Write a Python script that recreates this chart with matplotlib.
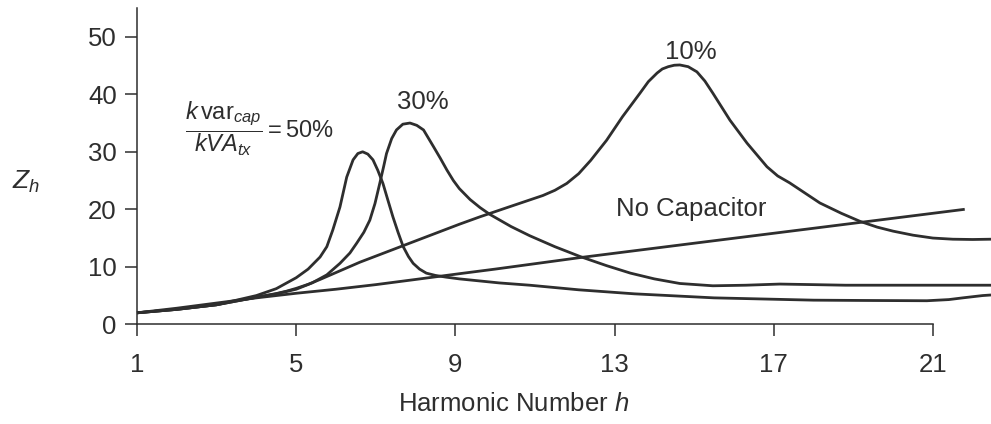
import matplotlib
matplotlib.use("Agg")
import matplotlib.pyplot as plt

plt.rcParams['font.family'] = ['Liberation Sans', 'DejaVu Sans']
plt.rcParams['mathtext.fontset'] = 'custom'
plt.rcParams['mathtext.rm'] = 'Liberation Sans'
plt.rcParams['mathtext.it'] = 'Liberation Sans:italic'

INK = '#2e2e2e'

# values
h_50 = [1, 2, 3, 4, 4.5, 5.0, 5.3, 5.6, 5.77, 5.92, 6.1, 6.27, 6.43, 6.55, 6.67, 6.8,
        6.93, 7.05, 7.18, 7.3, 7.43, 7.56, 7.69, 7.82, 7.94, 8.1, 8.27, 8.5, 8.77, 9.1,
        10.1, 10.87, 12.1, 13.5, 15.5, 18.0, 19.2, 20.85, 21.4, 21.75, 22.25, 22.46]
z_50 = [2, 2.6, 3.4, 5.0, 6.2, 8.1, 9.6, 11.7, 13.5, 16.4, 20.4, 25.6, 28.6, 29.7, 30.0, 29.6,
        28.6, 26.8, 24.5, 21.7, 18.7, 16.0, 13.5, 11.8, 10.6, 9.6, 8.9, 8.5, 8.2, 7.9,
        7.2, 6.8, 6.0, 5.3, 4.6, 4.2, 4.15, 4.1, 4.3, 4.6, 5.0, 5.1]

h_30 = [1, 2, 3, 4, 4.5, 5, 5.4, 5.77, 6.1, 6.35, 6.52, 6.7, 6.85, 6.98, 7.1, 7.2, 7.27,
        7.4, 7.52, 7.68, 7.86, 8.03, 8.2, 8.45, 8.62, 8.79, 8.95, 9.1, 9.37, 9.62, 9.87,
        10.4, 10.87, 11.5, 12.13, 12.8, 13.4, 14.0, 14.64, 15.47, 16.3, 17.15, 18.0, 18.8,
        22.46]
z_30 = [2, 2.6, 3.4, 4.7, 5.3, 6.1, 7.2, 8.6, 10.6, 12.4, 14.1, 16.0, 18.1, 21.0, 24.5, 27.5,
        29.7, 32.3, 33.8, 34.8, 35.0, 34.6, 33.8, 30.9, 28.9, 26.8, 25.0, 23.6, 21.7, 20.3,
        19.1, 17.0, 15.4, 13.5, 11.8, 10.2, 8.9, 7.9, 7.1, 6.7, 6.8, 7.0, 6.9, 6.8,
        6.8]

h_10 = [1, 2, 3, 4, 4.5, 4.75, 5, 5.3, 5.6, 6.6, 8.0, 9.1, 9.62, 10.3, 10.9, 11.2, 11.5,
        11.8, 12.1, 12.4, 12.8, 13.2, 13.64, 13.85, 14.07, 14.2, 14.35, 14.5, 14.64, 14.85,
        15.07, 15.27, 15.47, 15.9, 16.33, 16.83, 17.1, 17.4, 18.16, 18.7, 19.17, 19.6,
        20.0, 20.5, 21.0, 21.5, 22.0, 22.46]
z_10 = [2, 2.6, 3.4, 4.7, 5.35, 5.75, 6.25, 6.95, 7.8, 10.8, 14.5, 17.4, 18.7, 20.3, 21.7,
        22.4, 23.3, 24.5, 26.2, 28.5, 32.0, 36.1, 40.2, 42.2, 43.7, 44.4, 44.8, 45.05, 45.1,
        44.8, 43.9, 42.3, 40.2, 35.5, 31.5, 27.4, 25.8, 24.6, 21.1, 19.3, 17.9, 16.9,
        16.2, 15.5, 15.0, 14.8, 14.75, 14.8]

h_nocap = [1, 2, 3, 4, 5, 6, 7, 8, 9.1, 10, 12.13, 15, 18, 21.8]
z_nocap = [2, 2.8, 3.7, 4.6, 5.4, 6.1, 6.9, 7.8, 8.8, 9.6, 11.6, 14.1, 16.7, 20.0]

x_ticks = [1, 5, 9, 13, 17, 21]
y_ticks = [0, 10, 20, 30, 40, 50]

fig = plt.figure(figsize=(9.91, 4.24), dpi=100)
ax = fig.add_axes([137 / 991, 0.2351, 1 - 137 / 991, 0.746])

for h, z in [(h_50, z_50), (h_30, z_30), (h_10, z_10), (h_nocap, z_nocap)]:
    ax.plot(h, z, color=INK, lw=2.0, solid_joinstyle='round', solid_capstyle='butt',
            clip_on=False)

ax.set_xlim(1, 22.46)
ax.set_ylim(0, 55)
ax.spines['top'].set_visible(False)
ax.spines['right'].set_visible(False)
ax.spines['bottom'].set_bounds(1, 21)
for s in ['left', 'bottom']:
    ax.spines[s].set_color(INK)
    ax.spines[s].set_linewidth(1.1)
ax.set_xticks(x_ticks)
ax.set_yticks(y_ticks)
ax.tick_params(axis='both', direction='out', length=8.5, width=1.1, color=INK,
               labelcolor=INK, labelsize=18.5)
ax.tick_params(axis='x', pad=12)
ax.tick_params(axis='y', pad=6)

ax.text(8.19, 38.7, '30%', ha='center', va='center', fontsize=18.5, color=INK)
ax.text(14.92, 47.4, '10%', ha='center', va='center', fontsize=18.5, color=INK)
ax.text(14.92, 20.05, 'No Capacitor', ha='center', va='center', fontsize=18.5, color=INK)
ax.text(4.08, 34.0, r'$\dfrac{k\,\mathrm{var}_{cap}}{kVA_{tx}} = 50\%$',
        ha='center', va='center', fontsize=17, color=INK)

fig.text(26 / 991, 1 - 182 / 424, r'$Z_h$', ha='center', va='center', fontsize=19, color=INK)
fig.text(514 / 991, 1 - 404 / 424, r'Harmonic Number $h$', ha='center', va='center',
         fontsize=18.5, color=INK)

fig.savefig('out.png', dpi=100)
